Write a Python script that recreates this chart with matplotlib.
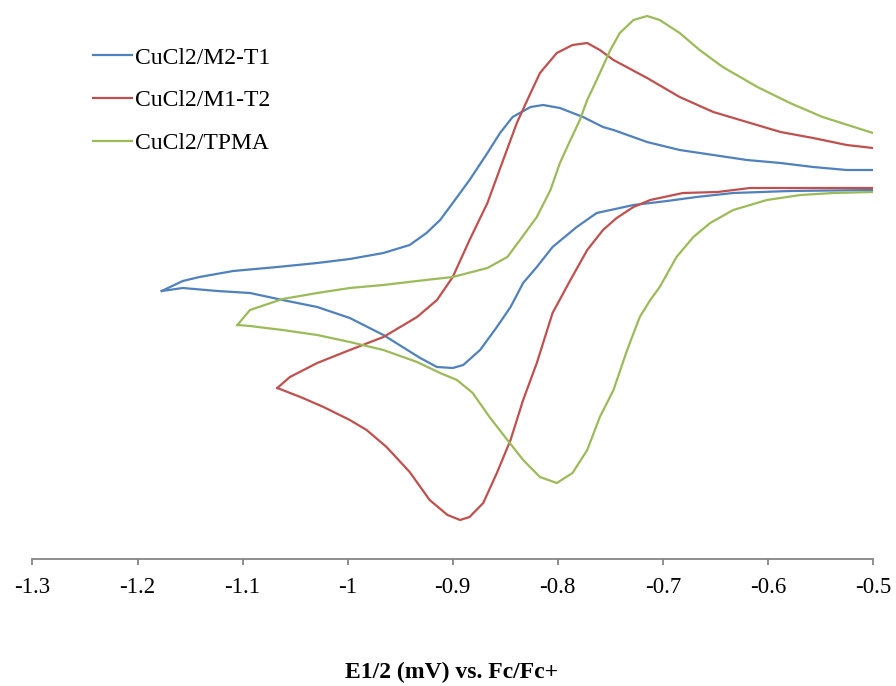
import matplotlib
matplotlib.use("Agg")
import matplotlib.pyplot as plt

# ---- data (potential in V vs Fc/Fc+, current in arbitrary units) ----
# forward sweep: from negative vertex to -0.5 V (upper branch)
# reverse sweep: from -0.5 V back to negative vertex (lower branch)
m2t1_fwd_E = [-1.177, -1.157, -1.141, -1.109, -1.067, -1.029, -0.998, -0.966, -0.941, -0.925,
              -0.912, -0.900, -0.884, -0.867, -0.855, -0.843, -0.826, -0.814, -0.798, -0.776,
              -0.757, -0.747, -0.715, -0.684, -0.652, -0.620, -0.588, -0.557, -0.525, -0.500]
m2t1_fwd_I = [268, 278, 282, 288, 292, 296, 300, 306, 314, 326,
              339, 356, 379, 406, 426, 442, 452, 454, 451, 442,
              432, 429, 417, 409, 404, 399, 396, 392, 389, 389]
m2t1_rev_E = [-0.500, -0.579, -0.633, -0.668, -0.696, -0.728, -0.741, -0.763, -0.782, -0.805,
              -0.820, -0.833, -0.845, -0.858, -0.874, -0.890, -0.900, -0.915, -0.931, -0.966,
              -0.998, -1.029, -1.062, -1.093, -1.124, -1.157, -1.177]
m2t1_rev_I = [369, 368, 366, 362, 358, 354, 351, 346, 332, 312,
              292, 276, 252, 232, 209, 194, 191, 192, 201, 224,
              241, 252, 259, 266, 268, 271, 268]

m1t2_fwd_E = [-1.067, -1.055, -1.029, -0.998, -0.966, -0.934, -0.915, -0.900, -0.884, -0.867,
              -0.852, -0.839, -0.829, -0.817, -0.801, -0.786, -0.772, -0.760, -0.747, -0.715,
              -0.684, -0.652, -0.620, -0.588, -0.557, -0.525, -0.500]
m1t2_fwd_I = [171, 182, 196, 209, 222, 242, 259, 282, 319, 356,
              399, 436, 459, 486, 506, 514, 516, 509, 499, 481,
              462, 447, 437, 427, 421, 414, 411]
m1t2_rev_E = [-0.500, -0.617, -0.648, -0.681, -0.712, -0.728, -0.744, -0.757, -0.772, -0.788,
              -0.805, -0.820, -0.833, -0.845, -0.858, -0.871, -0.884, -0.893, -0.905, -0.922,
              -0.941, -0.963, -0.982, -0.998, -1.023, -1.045, -1.067]
m1t2_rev_I = [371, 371, 367, 366, 359, 352, 341, 329, 309, 279,
              246, 196, 159, 119, 86, 56, 42, 39, 44, 59,
              87, 112, 129, 139, 152, 162, 171]

tpma_fwd_E = [-1.105, -1.093, -1.062, -1.029, -0.998, -0.966, -0.934, -0.900, -0.867, -0.848,
              -0.836, -0.820, -0.807, -0.798, -0.788, -0.779, -0.772, -0.763, -0.750, -0.741,
              -0.728, -0.715, -0.703, -0.684, -0.665, -0.643, -0.610, -0.579, -0.548, -0.515,
              -0.500]
tpma_fwd_I = [234, 249, 260, 266, 271, 274, 278, 282, 291, 302,
              319, 342, 369, 396, 419, 439, 459, 479, 509, 526,
              539, 543, 539, 526, 509, 492, 472, 456, 442, 431,
              426]
tpma_rev_E = [-0.500, -0.538, -0.569, -0.601, -0.633, -0.655, -0.671, -0.687, -0.703, -0.712,
              -0.722, -0.734, -0.747, -0.760, -0.772, -0.786, -0.801, -0.817, -0.833, -0.848,
              -0.865, -0.881, -0.896, -0.912, -0.934, -0.966, -0.998, -1.029, -1.062, -1.093,
              -1.105]
tpma_rev_I = [367, 366, 364, 359, 349, 336, 322, 302, 272, 259,
              242, 209, 169, 142, 109, 86, 76, 82, 99, 119,
              142, 166, 179, 186, 197, 209, 217, 224, 229, 233,
              234]

labels = ["CuCl2/M2-T1", "CuCl2/M1-T2", "CuCl2/TPMA"]
colors = ["#4F81BD", "#C0504D", "#9BBB59"]
xticks = [-1.3, -1.2, -1.1, -1.0, -0.9, -0.8, -0.7, -0.6, -0.5]
xticklabels = ["-1.3", "-1.2", "-1.1", "-1", "-0.9", "-0.8", "-0.7", "-0.6", "-0.5"]

plt.rcParams['font.family'] = ['Liberation Serif', 'DejaVu Serif']

W, H = 896, 686
fig = plt.figure(figsize=(W / 100, H / 100), dpi=100)
ax = fig.add_axes([32.5 / W, (H - 559) / H, (873 - 32.5) / W, 559 / H])

series = [
    (m2t1_fwd_E, m2t1_fwd_I, m2t1_rev_E, m2t1_rev_I),
    (m1t2_fwd_E, m1t2_fwd_I, m1t2_rev_E, m1t2_rev_I),
    (tpma_fwd_E, tpma_fwd_I, tpma_rev_E, tpma_rev_I),
]
for (fE, fI, rE, rI), lab, col in zip(series, labels, colors):
    ax.plot(fE, fI, color=col, lw=1.6, label=lab, solid_joinstyle='round')
    ax.plot(rE, rI, color=col, lw=1.6, solid_joinstyle='round')

ax.set_xlim(-1.3, -0.5)
ax.set_ylim(0, 559)
ax.set_xticks(xticks)
ax.set_xticklabels(xticklabels, fontsize=16.5)
ax.set_yticks([])
for s in ['left', 'top', 'right']:
    ax.spines[s].set_visible(False)
ax.spines['bottom'].set_color('#868686')
ax.spines['bottom'].set_linewidth(1.3)
ax.tick_params(axis='x', direction='out', length=4, width=1.3, color='#868686', pad=9)
ax.patch.set_alpha(0)

fig.text(452 / W, 1 - 672 / H, "E1/2 (mV) vs. Fc/Fc+", ha='center', va='center',
         fontsize=17, fontweight='bold')

leg = ax.legend(loc='upper left', bbox_to_anchor=(93 / W, 1 - 47 / H),
                bbox_transform=fig.transFigure, frameon=False, fontsize=17,
                handlelength=1.65, handletextpad=0.15, labelspacing=0.9,
                borderpad=0, borderaxespad=0)

fig.savefig("out.png", dpi=100)
